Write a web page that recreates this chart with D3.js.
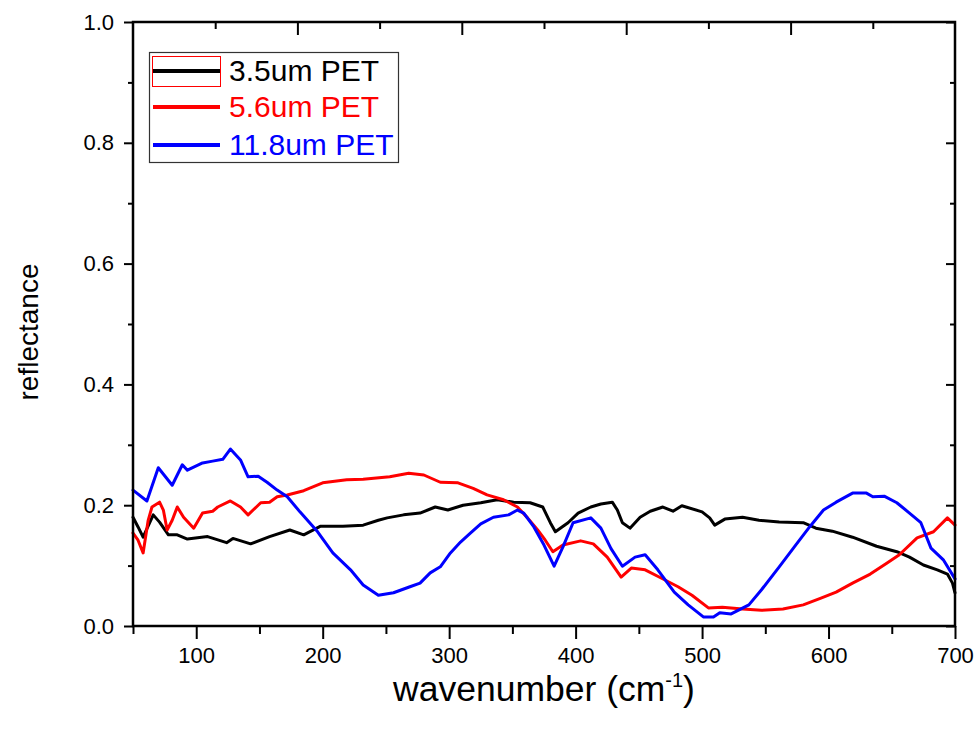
<!DOCTYPE html>
<html>
<head>
<meta charset="utf-8">
<script src="https://cdn.jsdelivr.net/npm/d3@7"></script>
<style>
  body { margin: 0; background: #fff; }
  svg { display: block; }
  text { font-family: "Liberation Sans", Arial, sans-serif; }
</style>
</head>
<body>
<svg id="chart" width="979" height="738"></svg>
<script>
// ---- data ----
const seriesNames = ["3.5um PET", "5.6um PET", "11.8um PET"];
const seriesColors = ["#000000", "#ff0000", "#0000ff"];

const wn35 = [50,54,58,66,71,78,85,93,109,124,129,143,158,174,185,198,216,232,244,251,264,277,289,299,311,325,338,351,364,374,380,384,394,402,412,420,429,433,437,443,451,459,469,477,484,500,506,510,518,532,545,561,580,590,603,619,638,654,664,675,686,694,698,700];
const refl35 = [.180,.164,.147,.184,.172,.151,.151,.144,.148,.138,.145,.136,.148,.159,.151,.165,.165,.167,.175,.179,.184,.187,.197,.192,.200,.204,.209,.205,.204,.197,.171,.156,.171,.187,.197,.202,.205,.192,.171,.162,.180,.190,.197,.190,.199,.189,.179,.167,.177,.180,.175,.172,.171,.162,.157,.147,.132,.123,.114,.101,.093,.086,.071,.055];

const wn56 = [50,54,58,62,65,71,74,77,81,85,90,98,105,113,117,127,135,141,151,158,164,172,185,200,219,232,253,268,280,293,307,319,330,343,354,362,370,376,382,390,404,414,425,436,444,455,468,481,492,505,516,532,547,564,580,594,606,619,633,646,656,670,683,694,700];
const refl56 = [.154,.142,.121,.175,.197,.205,.192,.159,.175,.197,.180,.162,.187,.190,.197,.207,.197,.184,.204,.205,.214,.217,.224,.237,.242,.243,.247,.253,.250,.238,.237,.228,.217,.209,.197,.179,.159,.142,.123,.134,.141,.136,.114,.081,.096,.093,.079,.065,.051,.030,.031,.028,.026,.028,.035,.046,.056,.071,.086,.104,.118,.146,.156,.179,.167];

const wn118 = [50,61,70,81,89,93,105,113,121,127,135,141,149,156,164,172,182,196,208,222,232,244,256,269,277,285,293,301,309,317,325,335,347,354,359,367,375,383,390,398,412,420,428,437,447,455,465,478,489,501,509,514,523,537,547,561,574,585,596,606,619,630,635,644,654,664,673,681,691,700];
const refl118 = [.225,.207,.262,.233,.267,.258,.270,.273,.276,.293,.275,.247,.248,.238,.225,.214,.189,.156,.121,.093,.068,.051,.055,.065,.071,.088,.098,.121,.139,.154,.169,.180,.184,.192,.187,.164,.134,.099,.131,.171,.179,.162,.128,.099,.114,.118,.093,.056,.035,.015,.015,.022,.020,.035,.060,.098,.134,.164,.192,.205,.220,.220,.214,.215,.204,.187,.171,.129,.109,.078];

const xTicksMajor = [100,200,300,400,500,600,700];
const xTicksMinor = [50,150,250,350,450,550,650];
const yTicksMajor = [0.0,0.2,0.4,0.6,0.8,1.0];
const yTicksMinor = [0.1,0.3,0.5,0.7,0.9];
const topTicksMajor = [0.2,0.4,0.6,0.8];
const topTicksMinor = [0.1,0.3,0.5,0.7,0.9];

const xTitle = "wavenumber (cm";
const yTitle = "reflectance";

// ---- layout ----
const L = 133, R = 955, T = 22, B = 626;
const svg = d3.select("#chart");
const x = d3.scaleLinear().domain([50, 700]).range([L, R]);
const y = d3.scaleLinear().domain([0, 1]).range([B, T]);
const xTop = d3.scaleLinear().domain([0, 1]).range([L, R]);

// data lines
const series = [
  {xs: wn35, ys: refl35},
  {xs: wn56, ys: refl56},
  {xs: wn118, ys: refl118}
];
const line = d3.line().x(d => x(d[0])).y(d => y(d[1]));
const plot = svg.append("g");
series.forEach((s, i) => {
  const pts = s.xs.map((v, j) => [v, s.ys[j]]);
  plot.append("path")
    .attr("d", line(pts))
    .attr("fill", "none")
    .attr("stroke", seriesColors[i])
    .attr("stroke-width", 3)
    .attr("stroke-linejoin", "round")
    .attr("stroke-linecap", "round");
});

// bottom axis
svg.append("g").attr("transform", `translate(0,${B})`)
  .call(d3.axisBottom(x).tickValues(xTicksMajor).tickSize(13).tickPadding(8).tickFormat(d3.format("d")));
svg.append("g").attr("transform", `translate(0,${B})`)
  .call(d3.axisBottom(x).tickValues(xTicksMinor).tickSize(8).tickFormat(""));
// left axis
svg.append("g").attr("transform", `translate(${L},0)`)
  .call(d3.axisLeft(y).tickValues(yTicksMajor).tickSize(9).tickPadding(10).tickFormat(d3.format(".1f")));
svg.append("g").attr("transform", `translate(${L},0)`)
  .call(d3.axisLeft(y).tickValues(yTicksMinor).tickSize(5).tickFormat(""));
// right axis (inward)
svg.append("g").attr("transform", `translate(${R},0)`)
  .call(d3.axisLeft(y).tickValues(yTicksMajor).tickSize(9).tickFormat(""));
svg.append("g").attr("transform", `translate(${R},0)`)
  .call(d3.axisLeft(y).tickValues(yTicksMinor).tickSize(5).tickFormat(""));
// top axis (inward)
svg.append("g").attr("transform", `translate(0,${T})`)
  .call(d3.axisBottom(xTop).tickValues(topTicksMajor).tickSize(13).tickFormat(""));
svg.append("g").attr("transform", `translate(0,${T})`)
  .call(d3.axisBottom(xTop).tickValues(topTicksMinor).tickSize(7).tickFormat(""));

svg.selectAll(".domain").remove();
svg.selectAll(".tick line").attr("stroke", "#000").attr("stroke-width", 2);
svg.selectAll(".tick text").attr("fill", "#000").style("font-size", "22px")
  .style("font-family", "'Liberation Sans', Arial, sans-serif");

// frame
svg.append("rect").attr("x", L).attr("y", T).attr("width", R - L).attr("height", B - T)
  .attr("fill", "none").attr("stroke", "#000").attr("stroke-width", 2.5);

// titles
const xt = svg.append("text").attr("x", 544).attr("y", 701)
  .attr("text-anchor", "middle").style("font-size", "35.5px").attr("fill", "#000");
xt.append("tspan").text(xTitle);
xt.append("tspan").attr("dy", -14).style("font-size", "20px").text("-1");
xt.append("tspan").attr("dy", 14).text(")");

svg.append("text").attr("transform", `translate(38,${(T + B) / 2 + 8}) rotate(-90)`)
  .attr("text-anchor", "middle").style("font-size", "28px").attr("fill", "#000").text(yTitle);

// legend
const lg = svg.append("g");
lg.append("rect").attr("x", 149.5).attr("y", 52.5).attr("width", 249).attr("height", 110)
  .attr("fill", "#fff").attr("stroke", "#333").attr("stroke-width", 1.2);
const legY = [71, 107, 145];
seriesNames.forEach((n, i) => {
  lg.append("line").attr("x1", 153).attr("x2", 220).attr("y1", legY[i]).attr("y2", legY[i])
    .attr("stroke", seriesColors[i]).attr("stroke-width", 4);
  lg.append("text").attr("x", 229).attr("y", legY[i] + 10).style("font-size", "30px")
    .attr("fill", seriesColors[i]).text(n);
});
lg.append("rect").attr("x", 152.5).attr("y", 56.5).attr("width", 68).attr("height", 30)
  .attr("fill", "none").attr("stroke", "#ff0000").attr("stroke-width", 1);
</script>
</body>
</html>
